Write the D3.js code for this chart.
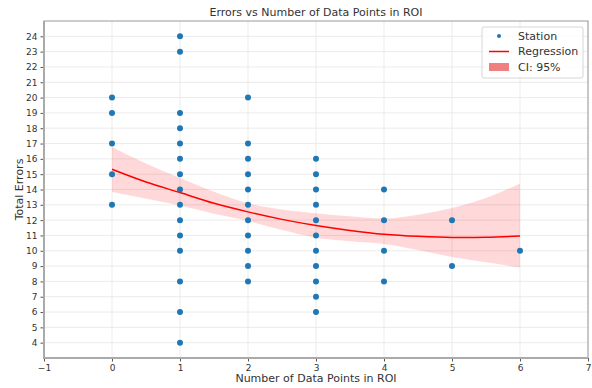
<!DOCTYPE html>
<html>
<head>
<meta charset="utf-8">
<script src="https://cdn.jsdelivr.net/npm/d3@7"></script>
<style>
  body { margin: 0; background: #fff; }
  svg { font-family: "DejaVu Sans", sans-serif; }
</style>
</head>
<body>
<svg width="592" height="388"></svg>
<script>
const svg = d3.select("svg");

// scatter points: [data points in ROI, total errors]
const stations = [
    [0, 20], [0, 19], [0, 17], [0, 15], [0, 13],
    [1, 24], [1, 23], [1, 19], [1, 18], [1, 17], [1, 16], [1, 15], [1, 14],
    [1, 13], [1, 12], [1, 11], [1, 10], [1, 8], [1, 6], [1, 4],
    [2, 20], [2, 17], [2, 16], [2, 15], [2, 14], [2, 13], [2, 12], [2, 11],
    [2, 10], [2, 9], [2, 8],
    [3, 16], [3, 15], [3, 14], [3, 13], [3, 12], [3, 11], [3, 10], [3, 9],
    [3, 8], [3, 7], [3, 6],
    [4, 14], [4, 12], [4, 10], [4, 8],
    [5, 12], [5, 9],
    [6, 10]
];

// regression curve and 95% band
const fitX     = [0, 0.5, 1, 1.5, 2, 2.5, 3, 3.5, 4, 4.5, 5, 5.5, 6];
const fitY     = [15.32, 14.49, 13.8, 13.1, 12.54, 12.05, 11.65, 11.33, 11.08, 10.94, 10.87, 10.88, 10.97];
const ciUpper  = [16.78, 15.7, 14.75, 13.85, 13.1, 12.7, 12.45, 12.25, 12.1, 12.35, 12.8, 13.45, 14.39];
const ciLower  = [13.84, 13.4, 12.95, 12.42, 11.95, 11.35, 10.85, 10.62, 10.45, 10.05, 9.6, 9.25, 8.91];

const xTicks = [-1, 0, 1, 2, 3, 4, 5, 6, 7];
const yTicks = d3.range(4, 25);

const margin = { left: 44, right: 4, top: 21, bottom: 30 };
const width = 592, height = 388;

const x = d3.scaleLinear().domain([-1, 7]).range([margin.left, width - margin.right]);
const y = d3.scaleLinear().domain([3, 25]).range([height - margin.bottom, margin.top]);

// grid
svg.append("g")
    .selectAll("line")
    .data(xTicks)
    .enter().append("line")
    .attr("x1", d => x(d)).attr("x2", d => x(d))
    .attr("y1", y(3)).attr("y2", y(25))
    .attr("stroke", "#e6e6e6").attr("stroke-width", 0.8);
svg.append("g")
    .selectAll("line")
    .data(yTicks)
    .enter().append("line")
    .attr("x1", x(-1)).attr("x2", x(7))
    .attr("y1", d => y(d)).attr("y2", d => y(d))
    .attr("stroke", "#e6e6e6").attr("stroke-width", 0.8);

// CI band
const band = fitX.map((v, i) => ({ x: v, lo: ciLower[i], hi: ciUpper[i] }));
svg.append("path")
    .datum(band)
    .attr("fill", "#ff0000")
    .attr("fill-opacity", 0.15)
    .attr("d", d3.area()
        .x(d => x(d.x))
        .y0(d => y(d.lo))
        .y1(d => y(d.hi))
        .curve(d3.curveMonotoneX));

// regression line
svg.append("path")
    .datum(fitX.map((v, i) => [v, fitY[i]]))
    .attr("fill", "none")
    .attr("stroke", "#ff0000")
    .attr("stroke-width", 1.5)
    .attr("d", d3.line()
        .x(d => x(d[0]))
        .y(d => y(d[1]))
        .curve(d3.curveMonotoneX));

// points
svg.append("g")
    .selectAll("circle")
    .data(stations)
    .enter().append("circle")
    .attr("cx", d => x(d[0]))
    .attr("cy", d => y(d[1]))
    .attr("r", 3)
    .attr("fill", "#1f77b4");

// axes
const xAxis = svg.append("g")
    .attr("transform", `translate(0,${y(3)})`)
    .call(d3.axisBottom(x).tickValues(xTicks).tickSize(3.5).tickPadding(3)
        .tickFormat(d => d < 0 ? "\u2212" + Math.abs(d) : d));
const yAxis = svg.append("g")
    .attr("transform", `translate(${x(-1)},0)`)
    .call(d3.axisLeft(y).tickValues(yTicks).tickSize(3.5).tickPadding(3));

[xAxis, yAxis].forEach(a => {
    a.select(".domain").remove();
    a.selectAll(".tick line").attr("stroke", "#555");
    a.selectAll(".tick text").attr("fill", "#333").style("font-size", "9px")
        .style("font-family", "DejaVu Sans, sans-serif");
});

// frame
svg.append("rect")
    .attr("x", x(-1)).attr("y", y(25))
    .attr("width", x(7) - x(-1)).attr("height", y(3) - y(25))
    .attr("fill", "none").attr("stroke", "#999").attr("stroke-width", 1);
svg.append("path")
    .attr("d", `M${x(-1)},${y(25)}V${y(3)}H${x(7)}`)
    .attr("fill", "none").attr("stroke", "#aaa").attr("stroke-width", 2);

// title and labels
svg.append("text")
    .attr("x", (x(-1) + x(7)) / 2).attr("y", 16)
    .attr("text-anchor", "middle")
    .attr("fill", "#333")
    .style("font-size", "11px")
    .text("Errors vs Number of Data Points in ROI");
svg.append("text")
    .attr("x", (x(-1) + x(7)) / 2).attr("y", 382)
    .attr("text-anchor", "middle")
    .attr("fill", "#333")
    .style("font-size", "11px")
    .text("Number of Data Points in ROI");
svg.append("text")
    .attr("transform", `translate(23,${(y(3) + y(25)) / 2}) rotate(-90)`)
    .attr("text-anchor", "middle")
    .attr("fill", "#333")
    .style("font-size", "11px")
    .text("Total Errors");

// legend
const legendItems = ["Station", "Regression", "CI: 95%"];
const lg = svg.append("g").attr("transform", "translate(482,27)");
lg.append("rect")
    .attr("width", 101).attr("height", 51).attr("rx", 2)
    .attr("fill", "#fff").attr("fill-opacity", 0.8)
    .attr("stroke", "#ccc").attr("stroke-width", 0.8);
const rows = lg.selectAll("g.row")
    .data(legendItems)
    .enter().append("g")
    .attr("transform", (d, i) => `translate(0,${9 + i * 15.5})`);
rows.filter((d, i) => i === 0).append("circle")
    .attr("cx", 17).attr("r", 2).attr("fill", "#1f77b4");
rows.filter((d, i) => i === 1).append("line")
    .attr("x1", 7).attr("x2", 27)
    .attr("stroke", "#ff0000").attr("stroke-width", 1.5);
rows.filter((d, i) => i === 2).append("rect")
    .attr("x", 7).attr("y", -4).attr("width", 20).attr("height", 8)
    .attr("fill", "#f08080");
rows.append("text")
    .attr("x", 36).attr("dy", "0.35em")
    .attr("fill", "#333")
    .style("font-size", "11px")
    .text(d => d);
</script>
</body>
</html>
